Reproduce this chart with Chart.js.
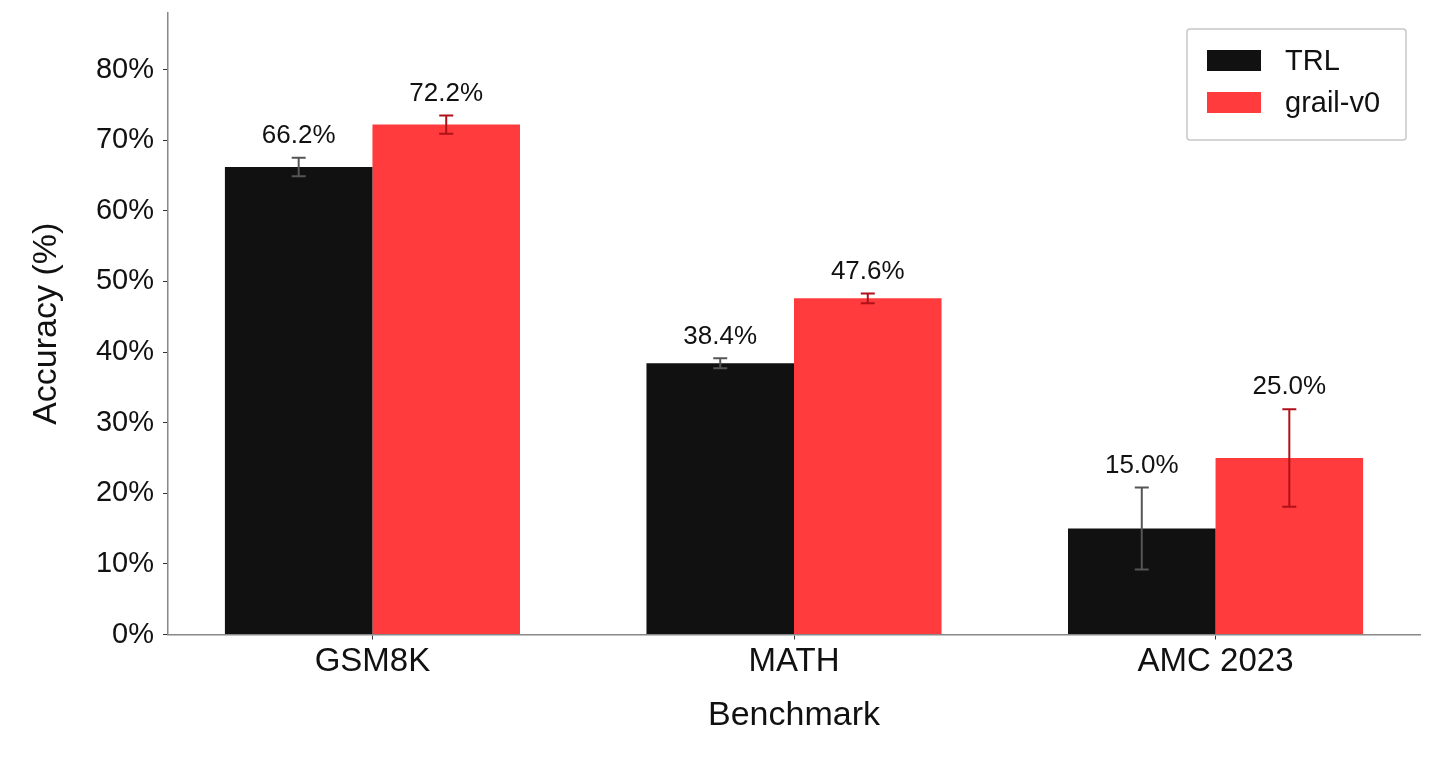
<!DOCTYPE html>
<html>
<head>
<meta charset="utf-8">
<script src="https://cdn.jsdelivr.net/npm/chart.js@4.4.0/dist/chart.umd.min.js"></script>
<style>
  html, body { margin: 0; padding: 0; background: #fff; }
  #wrap { width: 1456px; height: 769px; }
</style>
</head>
<body>
<div id="wrap"><canvas id="chart"></canvas></div>
<script>
const categories = ['GSM8K', 'MATH', 'AMC 2023'];
const trlValues = [66.2, 38.4, 15.0];
const grailValues = [72.2, 47.6, 25.0];
const trlErrors = [1.3, 0.7, 5.8];
const grailErrors = [1.3, 0.7, 6.9];
const yTicks = [0, 10, 20, 30, 40, 50, 60, 70, 80];

const FONT = '"Liberation Sans", Arial, Helvetica, sans-serif';

// error bars + value labels above them
const errorBarPlugin = {
  id: 'errorBars',
  afterDatasetsDraw(chart) {
    const ctx = chart.ctx;
    const yScale = chart.scales.y;
    chart.data.datasets.forEach((ds, i) => {
      const meta = chart.getDatasetMeta(i);
      meta.data.forEach((bar, j) => {
        const v = ds.data[j].y;
        const e = ds.errors[j];
        const yTop = yScale.getPixelForValue(v + e);
        const yBot = yScale.getPixelForValue(v - e);
        ctx.save();
        ctx.strokeStyle = ds.errorColor;
        ctx.lineWidth = 2;
        ctx.beginPath();
        ctx.moveTo(bar.x, yTop); ctx.lineTo(bar.x, yBot);
        ctx.moveTo(bar.x - 7, yTop); ctx.lineTo(bar.x + 7, yTop);
        ctx.moveTo(bar.x - 7, yBot); ctx.lineTo(bar.x + 7, yBot);
        ctx.stroke();
        ctx.fillStyle = '#111';
        ctx.font = '26px ' + FONT;
        ctx.textAlign = 'center';
        ctx.textBaseline = 'middle';
        ctx.fillText(v.toFixed(1) + '%', bar.x, yTop - 22);
        ctx.restore();
      });
    });
  }
};

// matplotlib style legend box in the upper right
const boxLegendPlugin = {
  id: 'boxLegend',
  afterDraw(chart) {
    const ctx = chart.ctx;
    const area = chart.chartArea;
    const w = 219, h = 111;
    const x0 = area.right - 14 - w, y0 = area.top + 16;
    ctx.save();
    ctx.strokeStyle = '#c8c8c8';
    ctx.lineWidth = 1.5;
    ctx.fillStyle = 'rgba(255,255,255,0.8)';
    ctx.beginPath();
    ctx.roundRect(x0, y0, w, h, 3);
    ctx.fill();
    ctx.stroke();
    chart.data.datasets.forEach((ds, i) => {
      const py = y0 + 21 + i * 42;
      ctx.fillStyle = ds.backgroundColor;
      ctx.fillRect(x0 + 20, py, 54, 21);
      ctx.fillStyle = '#111';
      ctx.font = '29px ' + FONT;
      ctx.textAlign = 'left';
      ctx.textBaseline = 'middle';
      ctx.fillText(ds.label, x0 + 98, py + 12);
    });
    ctx.restore();
  }
};

new Chart(document.getElementById('chart'), {
  type: 'bar',
  data: {
    datasets: [
      {
        label: 'TRL',
        data: trlValues.map((v, i) => ({ x: i, y: v })),
        errors: trlErrors,
        backgroundColor: '#111111',
        errorColor: '#555555',
        categoryPercentage: 0.7,
        barPercentage: 1.0
      },
      {
        label: 'grail-v0',
        data: grailValues.map((v, i) => ({ x: i, y: v })),
        errors: grailErrors,
        backgroundColor: '#ff3b3d',
        errorColor: '#b01018',
        categoryPercentage: 0.7,
        barPercentage: 1.0
      }
    ]
  },
  options: {
    responsive: true,
    maintainAspectRatio: false,
    animation: false,
    layout: { padding: { top: 13, right: 36, left: 0, bottom: 0 } },
    scales: {
      x: {
        type: 'linear',
        offset: false,
        min: -0.485,
        max: 2.485,
        afterBuildTicks: (scale) => { scale.ticks = categories.map((c, i) => ({ value: i })); },
        afterFit: (scale) => {
          scale.height = 134.5;
          scale.paddingLeft = 0; scale.paddingRight = 0;
        },
        ticks: {
          color: '#111',
          font: { family: FONT, size: 33 },
          padding: 3,
          callback: (v) => categories[v]
        },
        grid: { display: true, offset: false, drawOnChartArea: false, drawTicks: true, tickLength: 5, tickColor: '#333' },
        border: { display: true, color: '#888', width: 1.5 },
        title: {
          display: true,
          text: 'Benchmark',
          color: '#111',
          font: { family: FONT, size: 34 },
          padding: { top: 0, bottom: 33 }
        }
      },
      y: {
        min: 0,
        max: 88,
        afterBuildTicks: (scale) => { scale.ticks = yTicks.map(v => ({ value: v })); },
        afterFit: (scale) => {
          scale.width = 168;
          scale.paddingTop = 0; scale.paddingBottom = 0;
        },
        ticks: {
          color: '#111',
          font: { family: FONT, size: 29 },
          padding: 9,
          callback: (v) => v + '%'
        },
        grid: { display: true, drawOnChartArea: false, drawTicks: true, tickLength: 5, tickColor: '#333' },
        border: { display: true, color: '#888', width: 1.5 },
        title: {
          display: true,
          text: 'Accuracy (%)',
          color: '#111',
          font: { family: FONT, size: 34 },
          padding: { top: 26, bottom: 0 }
        }
      }
    },
    plugins: {
      legend: { display: false },
      tooltip: { enabled: false }
    }
  },
  plugins: [errorBarPlugin, boxLegendPlugin]
});
</script>
</body>
</html>
